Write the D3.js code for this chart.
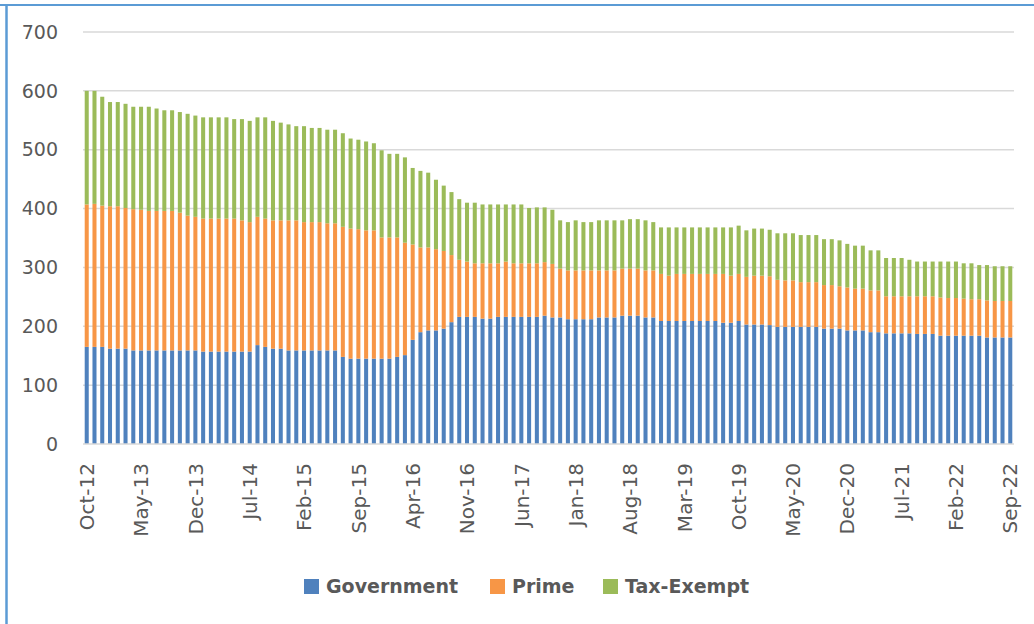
<!DOCTYPE html>
<html>
<head>
<meta charset="utf-8">
<script src="https://cdn.jsdelivr.net/npm/d3@7"></script>
<style>
  body { margin: 0; background: #fff; }
  text { font-family: "DejaVu Sans", sans-serif; fill: #595959; }
</style>
</head>
<body>
<script>
// monthly categories Oct-12 .. Sep-22
var months = d3.timeMonths(new Date(2012, 9, 1), new Date(2022, 9, 1));
var fmt = d3.timeFormat("%b-%y");
var categories = months.map(function(d) { return fmt(d); });

// labels shown on the x axis (every 7th month)
var tickLabels = ["Oct-12", "May-13", "Dec-13", "Jul-14", "Feb-15", "Sep-15", "Apr-16", "Nov-16", "Jun-17",
                  "Jan-18", "Aug-18", "Mar-19", "Oct-19", "May-20", "Dec-20", "Jul-21", "Feb-22", "Sep-22"];
var yTicks = [0, 100, 200, 300, 400, 500, 600, 700];

var government = [165,165,165,162,162,162,159,159,159,159,159,159,159,159,159,157,157,157,157,157,
                  157,157,168,165,162,162,159,159,159,159,159,159,159,148,145,145,145,145,145,145,
                  148,151,177,190,193,193,196,207,216,216,216,213,213,216,216,216,216,216,216,218,
                  215,215,212,212,212,212,215,215,215,218,218,218,215,215,209,209,209,209,209,209,
                  209,209,206,206,209,203,203,203,202,199,199,199,199,199,199,196,196,196,193,193,
                  193,190,190,188,188,188,188,187,187,187,184,184,184,184,184,184,181,181,181,181];
var prime = [242,243,240,242,242,239,240,239,237,237,237,237,234,229,227,226,226,226,226,226,
             223,220,218,218,218,218,221,221,218,218,218,216,216,221,221,220,218,218,206,206,
             203,191,162,144,141,138,132,114,97,94,91,94,94,91,94,91,91,91,91,91,
             91,83,83,83,83,83,80,80,80,80,80,80,80,80,80,77,80,80,80,80,
             80,80,83,80,80,81,83,83,83,80,79,79,76,76,76,74,74,72,73,71,
             71,71,71,63,63,63,63,64,64,64,65,64,64,63,62,62,63,62,62,62];
var taxExempt = [193,192,185,177,177,177,174,175,177,174,171,171,171,173,172,172,172,172,172,169,
                 172,172,169,172,169,166,163,160,163,160,160,159,159,159,153,152,151,148,148,142,
                 142,145,130,130,127,118,111,107,103,100,103,100,100,100,97,100,100,94,95,93,
                 92,82,82,85,82,82,85,85,85,82,84,84,85,82,79,82,79,79,79,79,
                 79,79,79,82,82,79,80,80,79,79,80,80,80,80,80,78,78,78,74,73,
                 73,68,68,65,65,65,62,59,59,59,61,62,62,60,61,58,60,59,59,59];

var seriesNames = ["Government", "Prime", "Tax-Exempt"];
var colors = ["#4f81bd", "#f79646", "#9bbb59"];

var width = 1034, height = 624;
var plot = {left: 83, right: 1014, top: 32, bottom: 444};

var svg = d3.select("body").append("svg")
    .attr("width", width)
    .attr("height", height);

// frame (only top and left edge visible in the crop)
svg.append("line").attr("x1", 0).attr("x2", width).attr("y1", 5).attr("y2", 5)
    .attr("stroke", "#5b9bd5").attr("stroke-width", 2);
svg.append("line").attr("x1", 6.5).attr("x2", 6.5).attr("y1", 4).attr("y2", height)
    .attr("stroke", "#5b9bd5").attr("stroke-width", 2.5);

var x = d3.scaleBand().domain(categories).range([plot.left, plot.right]).paddingInner(0.48).paddingOuter(0.22);
var y = d3.scaleLinear().domain([0, 700]).range([plot.bottom, plot.top]);

// gridlines
svg.append("g").selectAll("line")
    .data(yTicks.slice(1))
  .enter().append("line")
    .attr("x1", plot.left).attr("x2", plot.right)
    .attr("y1", function(d) { return y(d); })
    .attr("y2", function(d) { return y(d); })
    .attr("stroke", "#d9d9d9")
    .attr("stroke-width", 1.5);

// stack the data
var table = categories.map(function(c, i) {
  return {month: c, Government: government[i], Prime: prime[i], "Tax-Exempt": taxExempt[i]};
});
var stacked = d3.stack().keys(seriesNames)(table);

svg.append("g").selectAll("g")
    .data(stacked)
  .enter().append("g")
    .attr("fill", function(d, i) { return colors[i]; })
  .selectAll("rect")
    .data(function(d) { return d; })
  .enter().append("rect")
    .attr("x", function(d) { return x(d.data.month); })
    .attr("width", x.bandwidth())
    .attr("y", function(d) { return y(d[1]); })
    .attr("height", function(d) { return y(d[0]) - y(d[1]); });

// x axis baseline
svg.append("line")
    .attr("x1", plot.left).attr("x2", plot.right)
    .attr("y1", plot.bottom).attr("y2", plot.bottom)
    .attr("stroke", "#d9d9d9").attr("stroke-width", 1.5);

// y tick labels
svg.append("g").selectAll("text")
    .data(yTicks)
  .enter().append("text")
    .attr("x", 58)
    .attr("y", function(d) { return y(d); })
    .attr("dy", "0.35em")
    .attr("text-anchor", "end")
    .style("font-size", "19px")
    .text(function(d) { return d; });

// x tick labels, rotated
svg.append("g").selectAll("text")
    .data(tickLabels)
  .enter().append("text")
    .attr("transform", function(d) {
      return "translate(" + (x(d) + x.bandwidth() / 2) + "," + 463 + ") rotate(-90)";
    })
    .attr("dy", "0.36em")
    .attr("text-anchor", "end")
    .style("font-size", "20px")
    .text(function(d) { return d; });

// legend
var legendX = [304, 490, 603];
var legend = svg.append("g").selectAll("g")
    .data(seriesNames)
  .enter().append("g")
    .attr("transform", function(d, i) { return "translate(" + legendX[i] + ",579)"; });
legend.append("rect")
    .attr("width", 15).attr("height", 15)
    .attr("fill", function(d, i) { return colors[i]; });
legend.append("text")
    .attr("x", 22).attr("y", 7.5)
    .attr("dy", "0.36em")
    .style("font-size", "19px")
    .style("font-weight", "bold")
    .text(function(d) { return d; });
</script>
</body>
</html>
